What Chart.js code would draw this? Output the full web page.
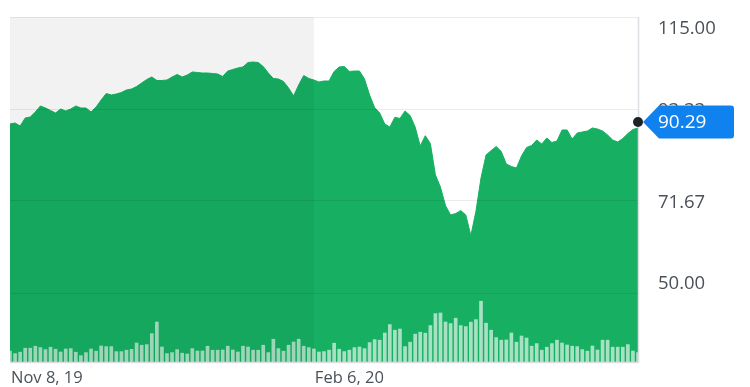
<!DOCTYPE html>
<html>
<head>
<meta charset="utf-8">
<script src="https://cdn.jsdelivr.net/npm/chart.js@4.4.0/dist/chart.umd.min.js"></script>
<style>
  html, body { margin: 0; padding: 0; background: #fff; }
  #wrap { width: 750px; height: 387px; }
</style>
</head>
<body>
<div id="wrap"><canvas id="chart"></canvas></div>
<script>
// daily close, Nov 8 2019 .. early May 2020
const price = [
  89.80, 90.04, 89.33, 91.21, 91.45, 92.63, 94.04, 93.57, 92.98, 92.39,
  93.33, 92.86, 93.33, 94.04, 93.57, 93.57, 92.63, 93.80, 95.45, 96.98,
  96.63, 96.87, 97.22, 97.81, 98.04, 98.63, 99.46, 100.28, 100.87, 100.05,
  100.05, 100.16, 100.87, 101.46, 100.87, 101.34, 102.05, 101.93, 101.81, 101.81,
  101.69, 101.58, 100.99, 102.28, 102.64, 102.99, 103.23, 104.28, 104.40, 104.28,
  103.34, 101.81, 100.52, 100.40, 99.81, 98.28, 96.40, 98.99, 101.22, 100.52,
  100.16, 99.69, 99.93, 99.93, 102.19, 103.23, 103.34, 102.17, 102.28, 102.28,
  100.40, 96.63, 93.66, 92.39, 89.80, 89.09, 91.40, 91.10, 92.86, 91.80,
  89.09, 84.62, 87.05, 85.21, 77.84, 74.92, 70.56, 68.37, 68.72, 69.41,
  68.37, 63.50, 69.24, 77.09, 82.50, 83.54, 84.50, 83.33, 80.38, 79.79,
  79.44, 82.27, 84.27, 84.74, 86.03, 85.09, 86.50, 85.44, 85.80, 88.39,
  88.39, 86.27, 87.68, 87.92, 88.15, 88.86, 88.62, 88.15, 87.21, 86.03,
  85.56, 86.39, 87.56, 88.51, 88.86
];

// volume, millions
const volume = [
  5.5, 4.2, 4.9, 6.9, 6.9, 7.9, 7.2, 6.2, 7.4, 6.4,
  5.0, 6.5, 6.7, 4.9, 3.2, 4.7, 6.5, 5.4, 8.0, 7.7,
  7.7, 5.2, 5.2, 5.9, 6.3, 9.5, 8.4, 8.7, 14.2, 20.0,
  7.5, 4.2, 4.7, 6.2, 4.4, 4.0, 6.7, 5.5, 5.5, 7.9,
  5.9, 5.9, 6.0, 7.9, 6.0, 5.0, 7.9, 7.5, 5.9, 5.9,
  8.4, 4.7, 11.4, 6.7, 5.4, 8.4, 10.0, 11.4, 7.9, 7.2,
  6.5, 5.0, 5.2, 5.9, 9.4, 6.4, 5.2, 5.9, 7.2, 7.5,
  6.7, 9.7, 11.2, 10.9, 14.5, 18.7, 15.9, 16.5, 7.7, 9.9,
  13.9, 14.9, 14.4, 18.2, 24.2, 24.5, 20.0, 19.2, 21.9, 18.2,
  17.7, 19.9, 21.2, 30.4, 19.4, 15.9, 12.2, 10.9, 11.0, 14.5,
  9.9, 13.0, 12.0, 7.9, 9.2, 5.9, 7.4, 9.2, 10.9, 9.5,
  8.5, 7.9, 7.7, 6.2, 5.4, 8.0, 6.0, 10.9, 10.9, 7.4,
  7.4, 7.4, 8.7, 5.5, 4.7
];

const xTickIndex = [0, 60];
const xTickText = ["Nov 8, 19", "Feb 6, 20"];
const yTicks = [115, 93.33, 71.67, 50];
const yTickText = ["115.00", "93.33", "71.67", "50.00"];
const lastPrice = 90.29;
const shadeEndIndex = 60;

const labels = price.map((_, i) => i);

const GREEN = "#17b062";
const TEXT = "#4a5159";
const FONT = "'Open Sans', 'Noto Sans', sans-serif";
const yLabelNudge = [12, 2, 2, -9];

const overlay = {
  id: "overlay",
  afterDatasetsDraw(chart) {
    const { ctx, chartArea: a, scales } = chart;
    const xEnd = scales.x.getPixelForValue(shadeEndIndex);
    ctx.save();
    ctx.fillStyle = "rgba(0,0,0,0.05)";
    ctx.fillRect(a.left, a.top, xEnd - a.left, a.bottom - a.top);
    ctx.restore();
  },
  afterDraw(chart) {
    const { ctx, chartArea: a, scales } = chart;
    const x = scales.x;
    const y = scales.y;
    ctx.save();

    // frame right + bottom
    ctx.strokeStyle = "#dcdee4";
    ctx.lineWidth = 1.5;
    ctx.beginPath();
    ctx.moveTo(a.right + 0.5, a.top);
    ctx.lineTo(a.right + 0.5, a.bottom + 1);
    ctx.moveTo(a.left, a.bottom + 0.5);
    ctx.lineTo(a.right, a.bottom + 0.5);
    ctx.stroke();

    ctx.fillStyle = TEXT;
    ctx.textAlign = "left";
    ctx.textBaseline = "middle";

    // bottom date labels
    ctx.font = "16.5px " + FONT;
    xTickIndex.forEach((v, i) => {
      ctx.fillText(xTickText[i], x.getPixelForValue(v) + 1, a.bottom + 16);
    });

    // right axis labels
    ctx.font = "18.5px " + FONT;
    yTicks.forEach((v, i) => {
      ctx.fillText(yTickText[i], a.right + 20, y.getPixelForValue(v) + yLabelNudge[i]);
    });

    // last price marker
    const py = y.getPixelForValue(lastPrice);
    const tx = a.right;
    ctx.fillStyle = "#0f82ef";
    ctx.beginPath();
    ctx.moveTo(tx + 5, py);
    ctx.lineTo(tx + 21, py - 16.5);
    ctx.lineTo(tx + 93, py - 16.5);
    ctx.quadraticCurveTo(tx + 96, py - 16.5, tx + 96, py - 13.5);
    ctx.lineTo(tx + 96, py + 13.5);
    ctx.quadraticCurveTo(tx + 96, py + 16.5, tx + 93, py + 16.5);
    ctx.lineTo(tx + 21, py + 16.5);
    ctx.closePath();
    ctx.fill();

    ctx.fillStyle = "#1e2226";
    ctx.beginPath();
    ctx.arc(tx, py, 5, 0, Math.PI * 2);
    ctx.fill();

    ctx.fillStyle = "#fff";
    ctx.font = "19px " + FONT;
    ctx.fillText(lastPrice.toFixed(2), tx + 20, py + 1);
    ctx.restore();
  }
};

new Chart(document.getElementById("chart"), {
  type: "line",
  data: {
    labels: labels,
    datasets: [
      {
        type: "bar",
        data: volume,
        yAxisID: "yVol",
        backgroundColor: "rgba(255,255,255,0.62)",
        barThickness: 3,
        order: 0
      },
      {
        type: "line",
        data: price,
        yAxisID: "y",
        fill: "start",
        backgroundColor: GREEN,
        borderColor: GREEN,
        borderWidth: 1,
        pointRadius: 0,
        tension: 0,
        order: 1
      }
    ]
  },
  options: {
    responsive: true,
    maintainAspectRatio: false,
    animation: false,
    devicePixelRatio: 1,
    layout: { padding: { left: 10, right: 112, top: 17, bottom: 25 } },
    plugins: { legend: { display: false }, tooltip: { enabled: false } },
    scales: {
      x: {
        type: "category",
        offset: false,
        display: false
      },
      y: {
        position: "right",
        min: 33.75,
        max: 115,
        afterBuildTicks: axis => { axis.ticks = yTicks.map(v => ({ value: v })); },
        grid: { color: "rgba(0,0,0,0.08)", drawTicks: false, z: 1 },
        border: { display: false },
        ticks: { display: false }
      },
      yVol: {
        display: false,
        min: 0,
        max: 172.5
      }
    }
  },
  plugins: [overlay]
});
</script>
</body>
</html>
